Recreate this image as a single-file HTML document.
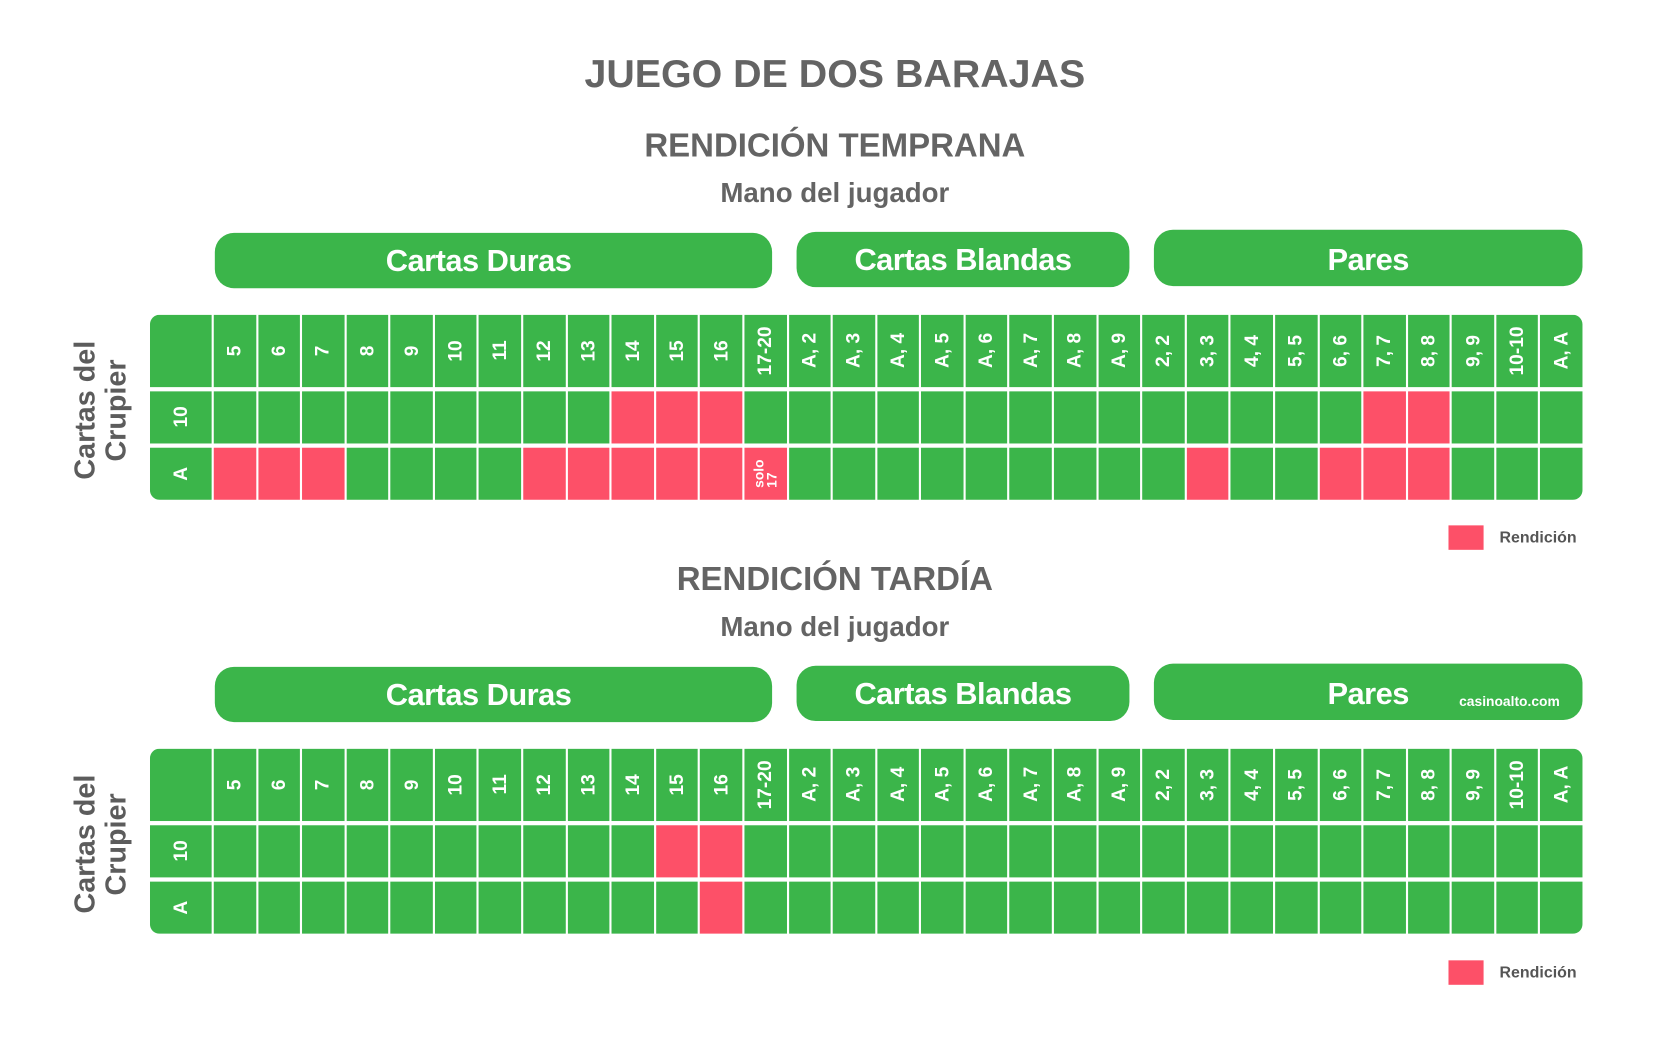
<!DOCTYPE html>
<html><head><meta charset="utf-8"><style>
html,body{margin:0;padding:0;background:#fff;width:1667px;height:1044px;overflow:hidden}
#w{position:absolute;left:0;top:0;width:1570px;height:982px;transform:scale(1.0635);transform-origin:0 0;font-family:"Liberation Sans",sans-serif;color:#646464}
.t{position:absolute;left:0;width:1570px;text-align:center;font-weight:bold;white-space:nowrap}
.pill{position:absolute;background:#3bb54a;border-radius:18px;color:#fff;font-weight:bold;font-size:29px;display:flex;align-items:center;justify-content:center;letter-spacing:-0.5px;box-sizing:border-box;padding-top:3px}
.tbl{position:absolute;left:141px;width:1347px;display:grid;grid-template-columns:58px repeat(31,1fr);grid-template-rows:68px 49px 49px;column-gap:2px;row-gap:4px;border-radius:9px;overflow:hidden}
.tbl div{background:#3bb54a;display:flex;align-items:center;justify-content:center;color:#fff;font-weight:bold;font-size:18px}
.tbl div span{writing-mode:vertical-rl;transform:rotate(180deg);white-space:nowrap}
.tbl div.r{background:#fd5068}
.side{position:absolute;left:66px;width:70px;font-weight:bold;font-size:27px;line-height:29px;color:#5c5c5c;writing-mode:vertical-rl;transform:rotate(180deg);text-align:center;height:180px}
.leg{position:absolute;left:1362px;width:33px;height:23px;background:#fd5068}
.legt{position:absolute;left:1410px;font-size:15px;font-weight:bold;color:#555}
</style></head><body><div id="w">
<div class="t" style="top:49px;font-size:37px">JUEGO DE DOS BARAJAS</div>
<div class="t" style="top:119px;font-size:31px">RENDICIÓN TEMPRANA</div>
<div class="t" style="top:166px;font-size:26px">Mano del jugador</div>
<div class="pill" style="left:202px;top:219px;width:524px;height:52px;padding-right:28px">Cartas Duras</div>
<div class="pill" style="left:749px;top:218px;width:313px;height:52px">Cartas Blandas</div>
<div class="pill" style="left:1085px;top:216px;width:403px;height:53px;padding-top:6px">Pares</div>
<div class="side" style="top:296px">Cartas del Crupier</div>
<div class="tbl" style="top:296px">
<div></div><div><span>5</span></div><div><span>6</span></div><div><span>7</span></div><div><span>8</span></div><div><span>9</span></div><div><span>10</span></div><div><span>11</span></div><div><span>12</span></div><div><span>13</span></div><div><span>14</span></div><div><span>15</span></div><div><span>16</span></div><div><span>17-20</span></div><div><span>A, 2</span></div><div><span>A, 3</span></div><div><span>A, 4</span></div><div><span>A, 5</span></div><div><span>A, 6</span></div><div><span>A, 7</span></div><div><span>A, 8</span></div><div><span>A, 9</span></div><div><span>2, 2</span></div><div><span>3, 3</span></div><div><span>4, 4</span></div><div><span>5, 5</span></div><div><span>6, 6</span></div><div><span>7, 7</span></div><div><span>8, 8</span></div><div><span>9, 9</span></div><div><span>10-10</span></div><div><span>A, A</span></div>
<div><span>10</span></div><div></div><div></div><div></div><div></div><div></div><div></div><div></div><div></div><div></div><div class="r"></div><div class="r"></div><div class="r"></div><div></div><div></div><div></div><div></div><div></div><div></div><div></div><div></div><div></div><div></div><div></div><div></div><div></div><div></div><div class="r"></div><div class="r"></div><div></div><div></div><div></div>
<div><span>A</span></div><div class="r"></div><div class="r"></div><div class="r"></div><div></div><div></div><div></div><div></div><div class="r"></div><div class="r"></div><div class="r"></div><div class="r"></div><div class="r"></div><div class="r" style="font-size:13px;line-height:12px"><span>solo<br>17</span></div><div></div><div></div><div></div><div></div><div></div><div></div><div></div><div></div><div></div><div class="r"></div><div></div><div></div><div class="r"></div><div class="r"></div><div class="r"></div><div></div><div></div><div></div>
</div>
<div class="leg" style="top:494px"></div><div class="legt" style="top:497px">Rendición</div>

<div class="t" style="top:527px;font-size:31px">RENDICIÓN TARDÍA</div>
<div class="t" style="top:574px;font-size:26px">Mano del jugador</div>
<div class="pill" style="left:202px;top:627px;width:524px;height:52px;padding-right:28px">Cartas Duras</div>
<div class="pill" style="left:749px;top:626px;width:313px;height:52px">Cartas Blandas</div>
<div class="pill" style="left:1085px;top:624px;width:403px;height:53px;padding-top:6px">Pares</div>
<div style="position:absolute;left:1372px;top:652px;color:#fff;font-weight:bold;font-size:13px">casinoalto.com</div>
<div class="side" style="top:704px">Cartas del Crupier</div>
<div class="tbl" style="top:704px">
<div></div><div><span>5</span></div><div><span>6</span></div><div><span>7</span></div><div><span>8</span></div><div><span>9</span></div><div><span>10</span></div><div><span>11</span></div><div><span>12</span></div><div><span>13</span></div><div><span>14</span></div><div><span>15</span></div><div><span>16</span></div><div><span>17-20</span></div><div><span>A, 2</span></div><div><span>A, 3</span></div><div><span>A, 4</span></div><div><span>A, 5</span></div><div><span>A, 6</span></div><div><span>A, 7</span></div><div><span>A, 8</span></div><div><span>A, 9</span></div><div><span>2, 2</span></div><div><span>3, 3</span></div><div><span>4, 4</span></div><div><span>5, 5</span></div><div><span>6, 6</span></div><div><span>7, 7</span></div><div><span>8, 8</span></div><div><span>9, 9</span></div><div><span>10-10</span></div><div><span>A, A</span></div>
<div><span>10</span></div><div></div><div></div><div></div><div></div><div></div><div></div><div></div><div></div><div></div><div></div><div class="r"></div><div class="r"></div><div></div><div></div><div></div><div></div><div></div><div></div><div></div><div></div><div></div><div></div><div></div><div></div><div></div><div></div><div></div><div></div><div></div><div></div><div></div>
<div><span>A</span></div><div></div><div></div><div></div><div></div><div></div><div></div><div></div><div></div><div></div><div></div><div></div><div class="r"></div><div></div><div></div><div></div><div></div><div></div><div></div><div></div><div></div><div></div><div></div><div></div><div></div><div></div><div></div><div></div><div></div><div></div><div></div><div></div>
</div>
<div class="leg" style="top:903px"></div><div class="legt" style="top:906px">Rendición</div>
</div></body></html>
